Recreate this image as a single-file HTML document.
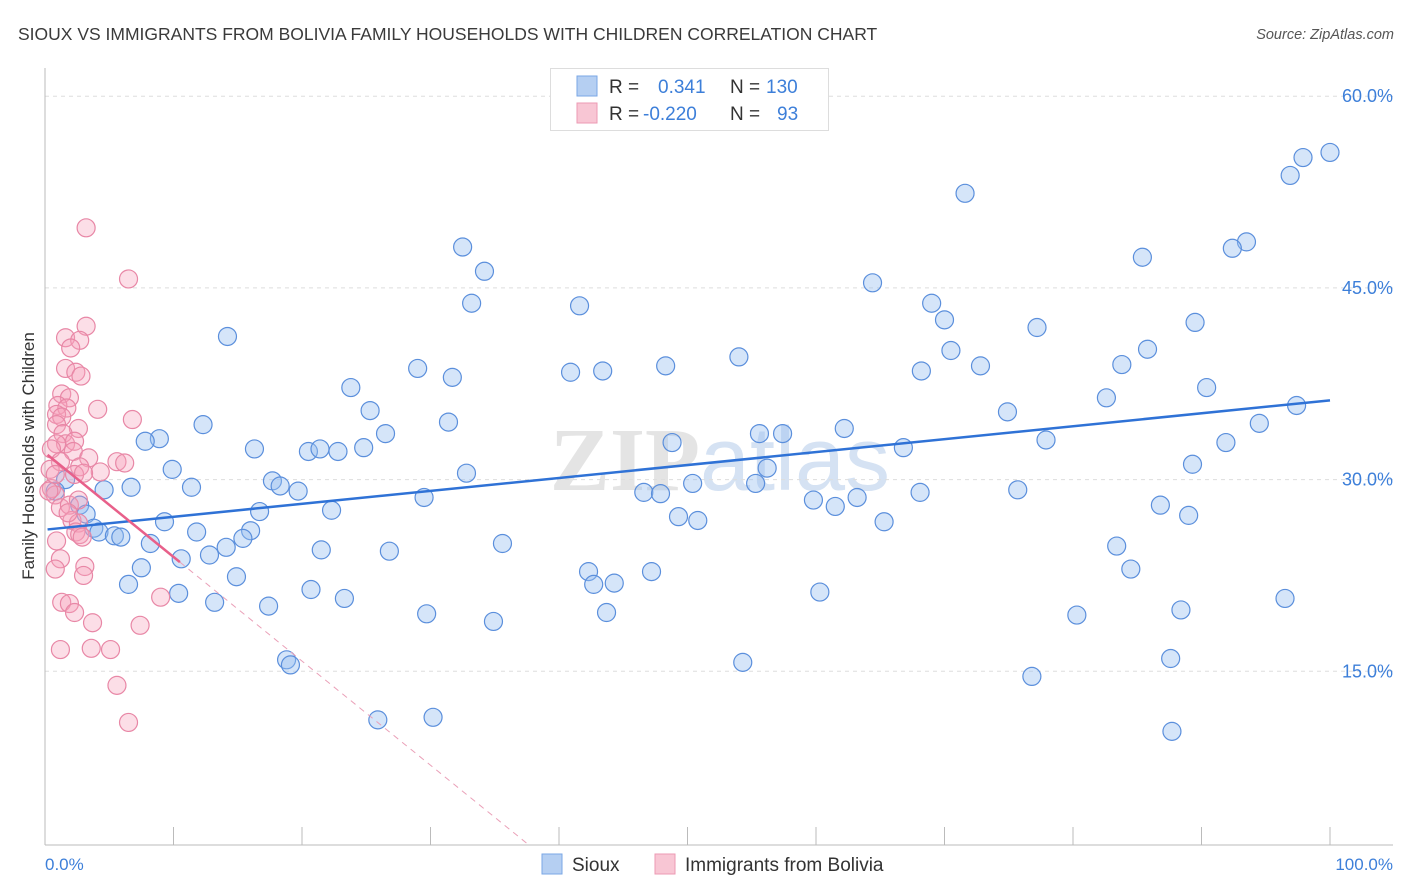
<!DOCTYPE html>
<html><head><meta charset="utf-8"><style>
body{margin:0;background:#fff;font-family:"Liberation Sans",sans-serif;}
svg{display:block}
</style></head><body>
<svg id="chart" width="1406" height="892" xmlns="http://www.w3.org/2000/svg">
<text x="18" y="40" font-size="17.5" fill="#3a3a3a">SIOUX VS IMMIGRANTS FROM BOLIVIA FAMILY HOUSEHOLDS WITH CHILDREN CORRELATION CHART</text>
<text x="1394" y="39" font-size="14.5" fill="#555" font-style="italic" text-anchor="end">Source: ZipAtlas.com</text>
<text x="720" y="490" font-size="90" fill="#e4e4e4" text-anchor="middle" font-family="Liberation Serif,serif" font-weight="bold">ZIP<tspan fill="#d5e2f3" font-family="Liberation Sans,sans-serif" font-weight="normal">atlas</tspan></text>
<g id="grid"></g>
<g id="axes"></g>
<g id="pts"></g>
<g id="lines"></g>
<text transform="translate(34,456) rotate(-90)" font-size="17" fill="#333" text-anchor="middle">Family Households with Children</text>
<text x="45" y="870" font-size="17" fill="#3d7fd9">0.0%</text>
<text x="1393" y="870" font-size="17" fill="#3d7fd9" text-anchor="end">100.0%</text>
<g>
<rect x="550.5" y="68.5" width="278" height="62" fill="#fff" stroke="#ddd"/>
<rect x="577" y="76" width="20" height="20" fill="#b5cff2" stroke="#7aa7e6"/>
<rect x="577" y="103" width="20" height="20" fill="#f8c6d4" stroke="#ec9ab3"/>
<text x="609" y="93" font-size="19" fill="#333">R = <tspan x="658" fill="#3d7fd9">0.341</tspan><tspan x="730" fill="#333">N = </tspan><tspan x="766" fill="#3d7fd9">130</tspan></text>
<text x="609" y="120" font-size="19" fill="#333">R = <tspan x="643" fill="#3d7fd9">-0.220</tspan><tspan x="730" fill="#333">N = </tspan><tspan x="777" fill="#3d7fd9">93</tspan></text>
</g>
<g>
<rect x="542" y="854" width="20" height="20" fill="#b5cff2" stroke="#7aa7e6"/>
<text x="572" y="871" font-size="19" fill="#333">Sioux</text>
<rect x="655" y="854" width="20" height="20" fill="#f8c6d4" stroke="#ec9ab3"/>
<text x="685" y="871" font-size="19" fill="#333">Immigrants from Bolivia</text>
</g>
</svg>
<script>
const yTicks=[15,30,45,60];
const yTickLabels=["15.0%","30.0%","45.0%","60.0%"];
const xTicks=[10,20,30,40,50,60,70,80,90,100];
const siouxX=[100,97.9,96.9,71.6,32.5,34.2,85.4,93.5,92.4,64.4,33.2,41.6,69.0,70.0,77.2,89.5,14.2,70.5,85.8,54.0,29.0,31.7,40.9,43.4,48.3,68.2,72.8,83.8,23.8,90.4,82.6,97.4,25.3,74.9,12.3,31.4,94.5,62.2,26.5,55.6,57.4,8.9,7.8,48.8,77.9,91.9,16.3,20.5,21.4,22.8,24.8,66.8,9.9,32.8,56.2,89.3,17.7,18.3,11.4,6.7,4.6,19.7,46.6,47.9,50.4,55.3,68.1,75.7,29.5,59.8,63.2,61.5,86.8,89.0,16.7,22.3,49.3,50.8,65.3,9.3,2.7,3.2,1.6,0.8,3.8,4.2,5.4,5.9,11.8,16.0,15.4,8.2,14.1,35.6,83.4,12.8,21.5,26.8,10.6,7.5,42.3,47.2,84.5,14.9,6.5,42.7,44.3,20.7,60.3,10.4,23.3,13.2,96.5,17.4,29.7,43.7,88.4,80.3,34.9,18.8,19.1,54.3,87.6,76.8,25.9,30.2,87.7];
const siouxY=[55.6,55.2,53.8,52.4,48.2,46.3,47.4,48.6,48.1,45.4,43.8,43.6,43.8,42.5,41.9,42.3,41.2,40.1,40.2,39.6,38.7,38.0,38.4,38.5,38.9,38.5,38.9,39.0,37.2,37.2,36.4,35.8,35.4,35.3,34.3,34.5,34.4,34.0,33.6,33.6,33.6,33.2,33.0,32.9,33.1,32.9,32.4,32.2,32.4,32.2,32.5,32.5,30.8,30.5,30.9,31.2,29.9,29.5,29.4,29.4,29.2,29.1,29.0,28.9,29.7,29.7,29.0,29.2,28.6,28.4,28.6,27.9,28.0,27.2,27.5,27.6,27.1,26.8,26.7,26.7,28.0,27.3,30.0,29.1,26.2,25.9,25.6,25.5,25.9,26.0,25.4,25.0,24.7,25.0,24.8,24.1,24.5,24.4,23.8,23.1,22.8,22.8,23.0,22.4,21.8,21.8,21.9,21.4,21.2,21.1,20.7,20.4,20.7,20.1,19.5,19.6,19.8,19.4,18.9,15.9,15.5,15.7,16.0,14.6,11.2,11.4,10.3];
const boliviaX=[3.2,6.5,3.2,1.6,2.7,2.0,1.6,2.4,2.8,1.3,1.9,1.0,1.7,4.1,0.9,1.3,2.6,6.8,0.9,1.4,1.6,0.9,2.3,0.5,2.2,1.2,3.4,5.6,6.2,0.4,2.7,4.3,2.3,3.0,0.5,0.8,0.3,1.2,1.9,2.1,2.6,2.4,2.7,0.9,2.9,1.2,0.8,3.1,3.0,1.3,1.9,2.3,3.7,1.2,3.6,5.1,5.6,6.5,7.4,9.0,2.6,1.8,0.8];
const boliviaY=[49.7,45.7,42.0,41.1,40.9,40.3,38.7,38.4,38.1,36.7,36.4,35.8,35.6,35.5,35.1,34.9,34.0,34.7,34.3,33.6,32.8,32.8,33.0,32.4,32.2,31.4,31.7,31.4,31.3,30.8,31.0,30.6,30.4,30.5,29.3,28.8,29.1,27.8,28.0,26.8,26.6,25.9,25.7,25.2,25.5,23.8,23.0,23.2,22.5,20.4,20.3,19.6,18.8,16.7,16.8,16.7,13.9,11.0,18.6,20.8,28.4,27.4,30.4];
const siouxTrend=[26.1,36.2];
const boliviaTrend=[32.1,-0.815];
const NS="http://www.w3.org/2000/svg";
const X0=45,X1=1330,YB=863,YS=12.78;
function sx(v){return X0+(X1-X0)*v/100;}
function sy(v){return YB-v*YS;}
function mk(tag,attrs,parent){const e=document.createElementNS(NS,tag);for(const k in attrs)e.setAttribute(k,attrs[k]);parent.appendChild(e);return e;}
const grid=document.getElementById('grid'),axes=document.getElementById('axes'),pts=document.getElementById('pts'),lines=document.getElementById('lines');
yTicks.forEach((t,i)=>{
 const l=mk('line',{x1:45,x2:1393,y1:sy(t),y2:sy(t),stroke:'#ddd','stroke-dasharray':'4,4'},grid);
 
 
 const tx=mk('text',{x:1393,y:sy(t)+6,'font-size':18,fill:'#3d7fd9','text-anchor':'end'},grid);
 tx.textContent=yTickLabels[i];
 
 
});
const ya=mk('line',{x1:45,x2:45,y1:68,y2:845,stroke:'#bbb'},axes);


const xa=mk('line',{x1:45,x2:1393,y1:845,y2:845,stroke:'#bbb'},axes);


xTicks.forEach(t=>{
 const l=mk('line',{x1:sx(t),x2:sx(t),y1:827,y2:845,stroke:'#bbb'},axes);
 
 
});
siouxX.forEach((v,i)=>{
 const c=mk('circle',{cx:sx(v),cy:sy(siouxY[i]),r:9,fill:'rgba(150,190,240,0.4)',stroke:'#5b8fdc','stroke-width':1.2},pts);
 
 
});
boliviaX.forEach((v,i)=>{
 const c=mk('circle',{cx:sx(v),cy:sy(boliviaY[i]),r:9,fill:'rgba(245,160,185,0.35)',stroke:'#e887a6','stroke-width':1.2},pts);
 
 
});
const sl=mk('line',{x1:sx(0.2),y1:sy(siouxTrend[0]),x2:sx(100),y2:sy(siouxTrend[1]),stroke:'#2f72d6','stroke-width':2.5},lines);


const bf=x=>boliviaTrend[0]+boliviaTrend[1]*x;
const bx1=10.5,bx2=37.7;
const bl=mk('line',{x1:sx(0.2),y1:sy(bf(0.2)),x2:sx(bx1),y2:sy(bf(bx1)),stroke:'#e8608a','stroke-width':2.5},lines);


const bd=mk('line',{x1:sx(bx1),y1:sy(bf(bx1)),x2:sx(bx2),y2:sy(bf(bx2)),stroke:'#eaa0b8','stroke-width':1,'stroke-dasharray':'6,5'},lines);


</script>
</body></html>
